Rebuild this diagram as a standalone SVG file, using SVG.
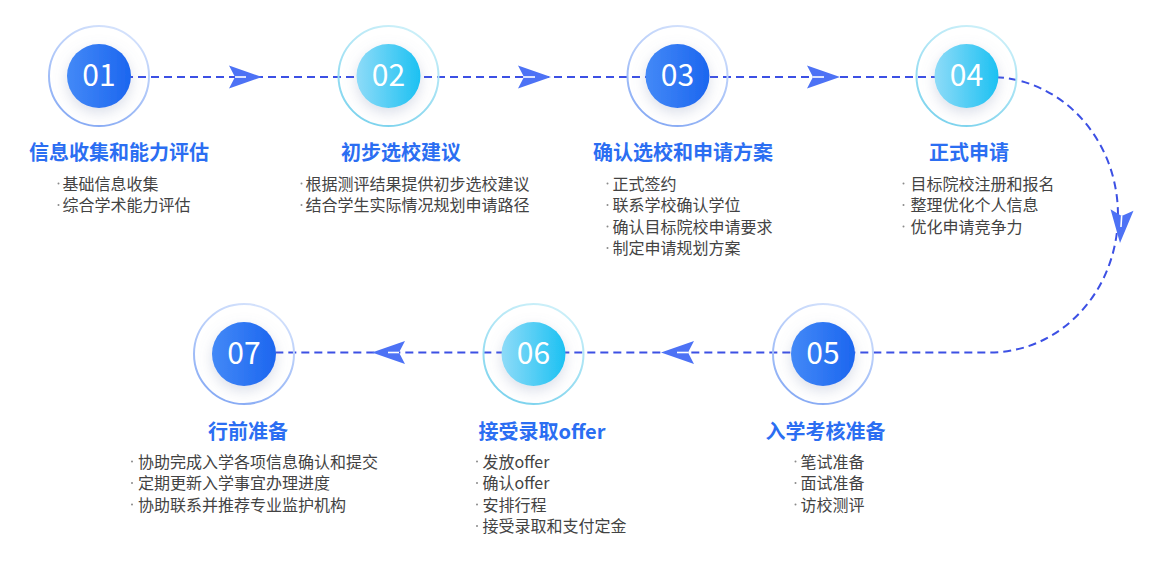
<svg xmlns="http://www.w3.org/2000/svg" width="1158" height="561" viewBox="0 0 1158 561">
<style>
.title{font-family:"Noto Sans CJK SC","Noto Sans",sans-serif;font-size:20px;font-weight:bold;fill:#2b6ef2;text-anchor:middle}
.item{font-family:"Noto Sans CJK SC","Noto Sans",sans-serif;font-size:16px;fill:#434343}
.dot{fill:#8a8a8a}
.num{font-family:"Noto Sans CJK SC","Noto Sans",sans-serif;font-size:30px;fill:#ffffff;text-anchor:middle}
.ringB{fill:none;stroke:url(#ringBlue);stroke-width:2}
.ringC{fill:none;stroke:url(#ringCyan);stroke-width:2}
.coreB{fill:url(#fillBlue);filter:url(#sh)}
.coreC{fill:url(#fillCyan);filter:url(#sh)}
.link{fill:none;stroke:#3c50e4;stroke-width:2;stroke-dasharray:8 5}
.head{fill:#4d72f5}
.headline{stroke:#ffffff;stroke-width:1.6}
</style>
<defs>
<linearGradient id="fillBlue" x1="0" y1="0" x2="1" y2="0"><stop offset="0" stop-color="#4389f7"/><stop offset="1" stop-color="#1c66ef"/></linearGradient>
<linearGradient id="fillCyan" x1="0" y1="0" x2="1" y2="0"><stop offset="0" stop-color="#8edbf8"/><stop offset="1" stop-color="#1cc1f2"/></linearGradient>
<linearGradient id="ringBlue" x1="0.7" y1="0" x2="0.3" y2="1"><stop offset="0" stop-color="#d6e3fc"/><stop offset="1" stop-color="#86aaf5"/></linearGradient>
<linearGradient id="ringCyan" x1="0.7" y1="0" x2="0.3" y2="1"><stop offset="0" stop-color="#cdf0f9"/><stop offset="1" stop-color="#7bd3ee"/></linearGradient>
<filter id="sh" x="-60%" y="-60%" width="220%" height="220%"><feDropShadow dx="0" dy="5" stdDeviation="7" flood-color="#7d8bb0" flood-opacity="0.28"/></filter>
<g id="arrowR"><path class="head" d="M0 0 L-33 -11.5 L-27 0 L-33 11.5 Z"/><line class="headline" x1="-27" y1="0" x2="-16" y2="0"/></g>
</defs>
<rect width="1158" height="561" fill="#ffffff"/>

<g id="connectors">
<path class="link" d="M99 77 L990 77 A128 137.75 0 0 1 990 352.5 L244 352.5"/>
<use href="#arrowR" transform="translate(262 77)"/>
<use href="#arrowR" transform="translate(551 77)"/>
<use href="#arrowR" transform="translate(840 77)"/>
<use href="#arrowR" transform="translate(1120 243) rotate(93.5)"/>
<use href="#arrowR" transform="translate(661 352.5) rotate(180)"/>
<use href="#arrowR" transform="translate(372 352.5) rotate(180)"/>
</g>

<g id="node-01">
<circle class="ringB" cx="99" cy="76" r="50"/>
<circle class="coreB" cx="99" cy="76" r="32"/>
<text class="num" x="99" y="86">01</text>
<text class="title" x="119" y="160">信息收集和能力评估</text>
<circle class="dot" cx="58.5" cy="183.5" r="1"/><text class="item" x="62.5" y="189.5">基础信息收集</text>
<circle class="dot" cx="58.5" cy="205" r="1"/><text class="item" x="62.5" y="211">综合学术能力评估</text>
</g>

<g id="node-02">
<circle class="ringC" cx="388.5" cy="76" r="50"/>
<circle class="coreC" cx="388.5" cy="76" r="32"/>
<text class="num" x="388.5" y="86">02</text>
<text class="title" x="401" y="160">初步选校建议</text>
<circle class="dot" cx="301.5" cy="183.5" r="1"/><text class="item" x="305.5" y="189.5">根据测评结果提供初步选校建议</text>
<circle class="dot" cx="301.5" cy="205" r="1"/><text class="item" x="305.5" y="211">结合学生实际情况规划申请路径</text>
</g>

<g id="node-03">
<circle class="ringB" cx="677.5" cy="76" r="50"/>
<circle class="coreB" cx="677.5" cy="76" r="32"/>
<text class="num" x="677.5" y="86">03</text>
<text class="title" x="683" y="160">确认选校和申请方案</text>
<circle class="dot" cx="607.5" cy="183.5" r="1"/><text class="item" x="612.5" y="189.5">正式签约</text>
<circle class="dot" cx="607.5" cy="205" r="1"/><text class="item" x="612.5" y="211">联系学校确认学位</text>
<circle class="dot" cx="607.5" cy="226.5" r="1"/><text class="item" x="612.5" y="232.5">确认目标院校申请要求</text>
<circle class="dot" cx="607.5" cy="248" r="1"/><text class="item" x="612.5" y="254">制定申请规划方案</text>
</g>

<g id="node-04">
<circle class="ringC" cx="966.5" cy="76" r="50"/>
<circle class="coreC" cx="966.5" cy="76" r="32"/>
<text class="num" x="966.5" y="86">04</text>
<text class="title" x="969" y="160">正式申请</text>
<circle class="dot" cx="903.5" cy="183.5" r="1"/><text class="item" x="910.5" y="189.5">目标院校注册和报名</text>
<circle class="dot" cx="903.5" cy="205" r="1"/><text class="item" x="910.5" y="211">整理优化个人信息</text>
<circle class="dot" cx="903.5" cy="226.5" r="1"/><text class="item" x="910.5" y="232.5">优化申请竞争力</text>
</g>

<g id="node-05">
<circle class="ringB" cx="823" cy="354" r="50"/>
<circle class="coreB" cx="823" cy="354" r="32"/>
<text class="num" x="823" y="364">05</text>
<text class="title" x="825.5" y="438.5">入学考核准备</text>
<circle class="dot" cx="795.5" cy="461.5" r="1"/><text class="item" x="800.5" y="467.5">笔试准备</text>
<circle class="dot" cx="795.5" cy="483" r="1"/><text class="item" x="800.5" y="489">面试准备</text>
<circle class="dot" cx="795.5" cy="504.5" r="1"/><text class="item" x="800.5" y="510.5">访校测评</text>
</g>

<g id="node-06">
<circle class="ringC" cx="533.5" cy="354" r="50"/>
<circle class="coreC" cx="533.5" cy="354" r="32"/>
<text class="num" x="533.5" y="364">06</text>
<text class="title" x="542" y="438.5">接受录取offer</text>
<circle class="dot" cx="477" cy="461.5" r="1"/><text class="item" x="482.5" y="467.5">发放offer</text>
<circle class="dot" cx="477" cy="483" r="1"/><text class="item" x="482.5" y="489">确认offer</text>
<circle class="dot" cx="477" cy="504.5" r="1"/><text class="item" x="482.5" y="510.5">安排行程</text>
<circle class="dot" cx="477" cy="526" r="1"/><text class="item" x="482.5" y="532">接受录取和支付定金</text>
</g>

<g id="node-07">
<circle class="ringB" cx="244" cy="354" r="50"/>
<circle class="coreB" cx="244" cy="354" r="32"/>
<text class="num" x="244" y="364">07</text>
<text class="title" x="248" y="438.5">行前准备</text>
<circle class="dot" cx="132" cy="461.5" r="1"/><text class="item" x="138" y="467.5">协助完成入学各项信息确认和提交</text>
<circle class="dot" cx="132" cy="483" r="1"/><text class="item" x="138" y="489">定期更新入学事宜办理进度</text>
<circle class="dot" cx="132" cy="504.5" r="1"/><text class="item" x="138" y="510.5">协助联系并推荐专业监护机构</text>
</g>
</svg>
